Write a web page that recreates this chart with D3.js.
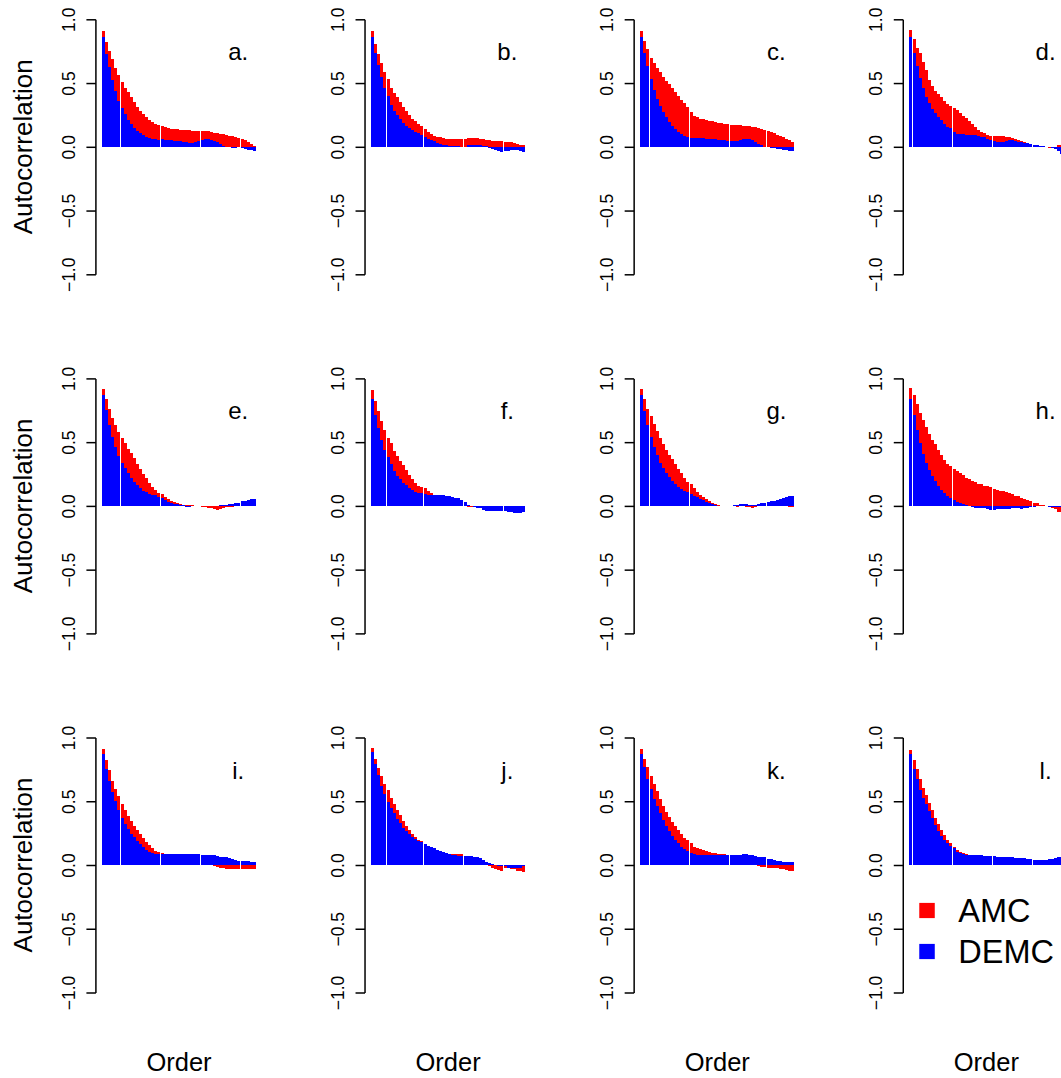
<!DOCTYPE html>
<html><head><meta charset="utf-8">
<script src="https://cdn.jsdelivr.net/npm/d3@7"></script>
<style>
html,body{margin:0;padding:0;background:#fff;}
svg{display:block;font-family:"Liberation Sans",Arial,Helvetica,sans-serif;}
</style>
</head><body>
<svg id="chart" width="1061" height="1078"></svg>
<script>
// ---------- data ----------
const panelLabels = ["a.","b.","c.","d.","e.","f.","g.","h.","i.","j.","k.","l."];
const lags = d3.range(1, 51);
const yTickValues = [-1, -0.5, 0, 0.5, 1];
const seriesNames = ["AMC", "DEMC"];
const seriesColors = ["#ff0000", "#0000ff"];
const yLabel = "Autocorrelation";
const xLabel = "Order";

const amc_a = [.91,.82,.75,.69,.62,.565,.512,.465,.426,.387,.355,.316,.282,.256,.23,.212,.193,.18,.172,.167,.154,.146,.141,.14,.136,.133,.13,.13,.128,.127,.125,.123,.125,.126,.125,.12,.112,.108,.103,.098,.092,.088,.085,.08,.072,.065,.055,.04,.025,.01];
const demc_a = [.865,.73,.622,.525,.44,.36,.308,.256,.212,.178,.146,.125,.105,.089,.078,.068,.065,.06,.052,.063,.055,.05,.052,.047,.048,.042,.038,.035,.033,.033,.04,.045,.055,.06,.06,.055,.045,.035,.02,.01,0,-.005,-.01,-.008,-.005,-.012,-.018,-.022,-.028,-.03];

const amc_b = [.905,.81,.73,.66,.59,.53,.46,.42,.39,.355,.315,.28,.25,.22,.205,.18,.16,.14,.115,.10,.086,.076,.073,.068,.063,.063,.063,.063,.063,.063,.065,.066,.067,.067,.066,.065,.062,.057,.053,.048,.047,.046,.045,.038,.034,.034,.03,.022,.018,.016];
const demc_b = [.865,.735,.643,.546,.46,.395,.33,.28,.25,.217,.186,.167,.146,.13,.115,.105,.094,.075,.063,.052,.042,.031,.024,.016,.012,.008,.008,.006,.003,0,0,.012,.016,.016,.016,.014,.01,.01,-.01,-.02,-.028,-.03,-.04,-.035,-.03,-.028,-.025,-.025,-.03,-.04];

const amc_c = [.91,.83,.77,.70,.66,.62,.585,.55,.52,.49,.46,.43,.40,.37,.34,.31,.27,.245,.23,.22,.215,.21,.205,.20,.195,.19,.185,.18,.175,.172,.17,.17,.168,.166,.165,.162,.158,.152,.146,.14,.133,.127,.12,.107,.094,.085,.076,.063,.05,.034];
const demc_c = [.86,.735,.63,.53,.447,.376,.32,.27,.23,.196,.165,.14,.115,.10,.086,.076,.07,.068,.066,.068,.066,.064,.062,.06,.058,.055,.052,.05,.045,.042,.042,.045,.05,.058,.063,.062,.055,.04,.025,.012,.002,-.005,-.008,-.012,-.015,-.018,-.022,-.026,-.03,-.03];

const amc_d = [.916,.846,.772,.733,.668,.60,.524,.476,.44,.414,.387,.359,.335,.318,.305,.29,.265,.245,.223,.20,.178,.157,.135,.118,.105,.092,.086,.084,.084,.083,.082,.08,.076,.07,.06,.052,.045,.038,.03,.025,.015,.01,.005,0,-.005,-.01,-.01,0,.012,.015];
const demc_d = [.865,.735,.63,.538,.46,.394,.346,.30,.262,.236,.21,.178,.157,.144,.118,.10,.097,.097,.096,.095,.093,.09,.085,.08,.075,.06,.052,.045,.04,.04,.04,.045,.052,.05,.042,.04,.038,.03,.026,.02,.018,.016,.008,.003,0,-.005,-.013,-.02,-.035,-.055];

const amc_e = [.914,.836,.763,.693,.638,.58,.536,.49,.45,.417,.372,.328,.292,.25,.216,.177,.146,.125,.104,.09,.073,.052,.042,.031,.02,.016,.01,.006,.005,.004,0,-.002,-.005,-.01,-.015,-.02,-.025,-.03,-.025,-.018,-.012,-.008,-.005,-.003,0,.003,.005,.005,.004,0];
const demc_e = [.867,.75,.633,.54,.464,.39,.333,.294,.255,.22,.19,.164,.138,.12,.107,.096,.086,.083,.073,.063,.047,.034,.026,.018,.012,.01,.005,-.005,-.005,-.002,.002,.002,.002,.002,.002,.002,.003,.003,.004,.006,.01,.016,.018,.02,.022,.035,.042,.05,.057,.057];

const amc_f = [.906,.823,.745,.667,.594,.536,.49,.432,.39,.354,.32,.281,.242,.21,.182,.156,.146,.138,.117,.10,.08,.07,.06,.05,.04,.035,.03,.025,.015,.01,0,-.008,-.012,-.01,-.012,-.015,-.02,-.025,-.025,-.02,-.02,-.025,-.03,-.03,-.03,-.03,-.035,-.04,-.04,-.03];
const demc_f = [.84,.716,.612,.516,.437,.38,.326,.273,.237,.208,.182,.161,.14,.125,.112,.104,.1,.09,.088,.087,.086,.086,.086,.085,.08,.075,.07,.065,.06,.045,.03,.01,0,-.008,-.015,-.02,-.03,-.038,-.04,-.04,-.04,-.04,-.04,-.04,-.048,-.05,-.052,-.057,-.055,-.045];

const amc_g = [.914,.836,.763,.703,.64,.589,.536,.484,.437,.398,.365,.328,.289,.255,.221,.19,.169,.138,.107,.086,.068,.052,.042,.026,.016,.008,.003,0,0,0,-.003,-.005,0,0,-.005,-.012,-.016,-.01,-.003,0,0,0,0,0,0,0,0,-.003,-.005,-.005];
const demc_g = [.872,.742,.638,.542,.464,.398,.339,.294,.255,.224,.198,.172,.151,.13,.117,.107,.091,.078,.068,.057,.047,.034,.026,.016,.008,.002,-.003,0,0,.003,.008,.01,.013,.013,.012,.008,.006,.01,.018,.02,.025,.031,.035,.039,.045,.055,.06,.07,.078,.078];

const amc_h = [.922,.867,.797,.732,.672,.615,.562,.52,.482,.437,.398,.359,.33,.31,.289,.275,.26,.242,.221,.208,.195,.185,.175,.17,.16,.155,.148,.13,.128,.12,.117,.11,.10,.09,.08,.075,.06,.055,.045,.035,.026,.02,.01,.005,0,-.005,-.018,-.025,-.044,-.05];
const demc_h = [.841,.711,.594,.49,.406,.333,.281,.237,.195,.156,.125,.099,.078,.06,.047,.034,.026,.016,.008,0,-.008,-.015,-.018,-.018,-.02,-.022,-.03,-.031,-.028,-.026,-.024,-.022,-.022,-.02,-.02,-.02,-.022,-.02,-.018,-.012,-.006,-.004,-.003,-.003,-.004,-.005,-.006,-.006,-.006,-.006];

const amc_i = [.906,.82,.742,.659,.599,.539,.482,.43,.383,.344,.305,.273,.242,.208,.182,.156,.135,.112,.099,.095,.088,.075,.07,.065,.06,.055,.05,.045,.04,.035,.03,.025,.02,.01,.005,0,-.008,-.015,-.02,-.026,-.03,-.034,-.034,-.033,-.031,-.031,-.031,-.031,-.031,-.031];
const demc_i = [.867,.755,.659,.573,.5,.435,.372,.32,.279,.242,.216,.188,.164,.138,.117,.102,.091,.085,.083,.083,.083,.083,.083,.083,.083,.083,.083,.083,.083,.083,.083,.083,.082,.082,.081,.08,.078,.07,.065,.065,.06,.052,.045,.039,.031,.031,.031,.028,.025,.023];

const amc_j = [.917,.833,.76,.695,.633,.586,.529,.477,.43,.391,.344,.305,.273,.247,.221,.2,.185,.165,.15,.14,.13,.12,.11,.1,.093,.087,.085,.083,.083,.083,.065,.06,.055,.05,.04,.03,.02,.005,-.01,-.02,-.03,-.04,-.044,-.02,-.02,-.03,-.035,-.045,-.05,-.057];
const demc_j = [.885,.789,.703,.617,.56,.495,.448,.404,.359,.326,.294,.268,.242,.221,.203,.19,.182,.164,.148,.138,.13,.117,.107,.099,.091,.085,.078,.075,.072,.07,.07,.07,.068,.065,.06,.052,.04,.026,.015,.008,0,-.005,-.008,-.01,-.02,-.026,-.02,-.022,-.025,-.01];

const amc_k = [.911,.833,.768,.695,.633,.581,.521,.464,.417,.378,.339,.305,.273,.242,.214,.195,.169,.143,.135,.128,.117,.109,.104,.096,.091,.088,.086,.083,.07,.06,.05,.04,.035,.03,.02,.01,.005,0,-.005,-.013,-.015,-.026,-.026,-.026,-.026,-.03,-.034,-.04,-.045,-.05];
const demc_k = [.872,.768,.672,.594,.521,.461,.404,.352,.305,.268,.229,.2,.169,.143,.122,.109,.096,.083,.078,.076,.075,.075,.075,.075,.075,.075,.076,.078,.081,.081,.081,.081,.081,.083,.083,.08,.077,.072,.065,.065,.062,.05,.044,.038,.034,.03,.025,.023,.023,.023];

const amc_l = [.904,.82,.755,.677,.607,.552,.487,.43,.372,.318,.273,.234,.2,.174,.143,.117,.104,.091,.083,.07,.065,.06,.055,.05,.05,.045,.04,.04,.035,.03,.03,.025,.025,.02,.02,.02,.015,.015,.01,.01,.01,.01,.01,.01,.01,.015,.02,.02,.02,.02];
const demc_l = [.867,.755,.677,.591,.529,.477,.422,.365,.313,.268,.227,.2,.174,.148,.13,.104,.091,.086,.078,.076,.076,.076,.076,.075,.07,.07,.07,.068,.065,.065,.065,.063,.062,.06,.055,.052,.052,.052,.05,.045,.04,.039,.039,.039,.039,.045,.05,.058,.06,.06];

const amcSeries = [amc_a, amc_b, amc_c, amc_d, amc_e, amc_f, amc_g, amc_h, amc_i, amc_j, amc_k, amc_l];
const demcSeries = [demc_a, demc_b, demc_c, demc_d, demc_e, demc_f, demc_g, demc_h, demc_i, demc_j, demc_k, demc_l];
const panels = panelLabels.map((lab, i) => ({label: lab, series: [amcSeries[i], demcSeries[i]]}));

// ---------- layout ----------
const colX0 = 95.91, colStep = 269.12;
const rowZero0 = 146.8, rowStep = 359.1;
const unit = 127.5;
const barPitch = 3.078;
const ink = "#000";

const svg = d3.select("#chart");
svg.append("rect").attr("width", 1061).attr("height", 1078).attr("fill", "#fff");

panels.forEach((p, idx) => {
  const r = Math.floor(idx / 4), c = idx % 4;
  const ax = colX0 + c * colStep;
  const zero = rowZero0 + r * rowStep;
  const y = d3.scaleLinear().domain([-1.08, 1.08]).range([zero + 1.08 * unit, zero - 1.08 * unit]);
  const x = d3.scaleBand().domain(lags).range([ax + 2 * barPitch, ax + 52 * barPitch]).padding(0);
  const bw = Math.floor(x.bandwidth());
  const g = svg.append("g");

  p.series.forEach((vals, si) => {
    g.append("g").selectAll("rect").data(vals).join("rect")
      .attr("x", (d, i) => Math.round(x(lags[i])))
      .attr("width", bw)
      .attr("y", d => y(Math.max(0, d)))
      .attr("height", d => Math.abs(y(d) - y(0)))
      .attr("fill", seriesColors[si])
      .attr("shape-rendering", "crispEdges");
  });

  const axis = d3.axisLeft(y).tickValues(yTickValues).tickSize(9.5).tickSizeOuter(0)
    .tickFormat(d3.format(".1f"));
  const ag = g.append("g").attr("transform", `translate(${ax},0)`).call(axis);
  ag.attr("font-family", null).attr("font-size", null);
  ag.select(".domain").remove();
  ag.append("line").attr("x1", 0).attr("x2", 0).attr("y1", y(-1) + 0.5).attr("y2", y(1) + 0.5)
    .attr("stroke", ink).attr("stroke-width", 1.5);
  ag.selectAll(".tick line").attr("stroke", ink).attr("stroke-width", 1.5);
  ag.selectAll(".tick text")
    .attr("x", null).attr("dy", null)
    .attr("transform", "translate(-21,0) rotate(-90)")
    .attr("text-anchor", "middle")
    .attr("fill", ink)
    .style("font-size", "17.5px");

  g.append("text").attr("x", ax + 142.3).attr("y", zero - 86.5)
    .attr("text-anchor", "middle").style("font-size", "24px").attr("fill", ink).text(p.label);

  if (c === 0) {
    g.append("text").attr("transform", `translate(${ax - 64.2},${zero}) rotate(-90)`)
      .attr("text-anchor", "middle").style("font-size", "26px").attr("fill", ink).text(yLabel);
  }
  if (r === 2) {
    g.append("text").attr("x", ax + 83.1).attr("y", 1071)
      .attr("text-anchor", "middle").style("font-size", "25.5px").attr("fill", ink).text(xLabel);
  }
  if (idx === 11) {
    const lg = g.append("g");
    seriesNames.forEach((name, si) => {
      const cy = zero + 45.5 + si * 41;
      lg.append("rect").attr("x", ax + 16).attr("y", cy - 7.6).attr("width", 15.5).attr("height", 15.2)
        .attr("fill", seriesColors[si]);
      lg.append("text").attr("x", ax + 55).attr("y", cy + 11.2)
        .style("font-size", "32.5px").attr("fill", ink).text(name);
    });
  }
});
</script>
</body></html>
